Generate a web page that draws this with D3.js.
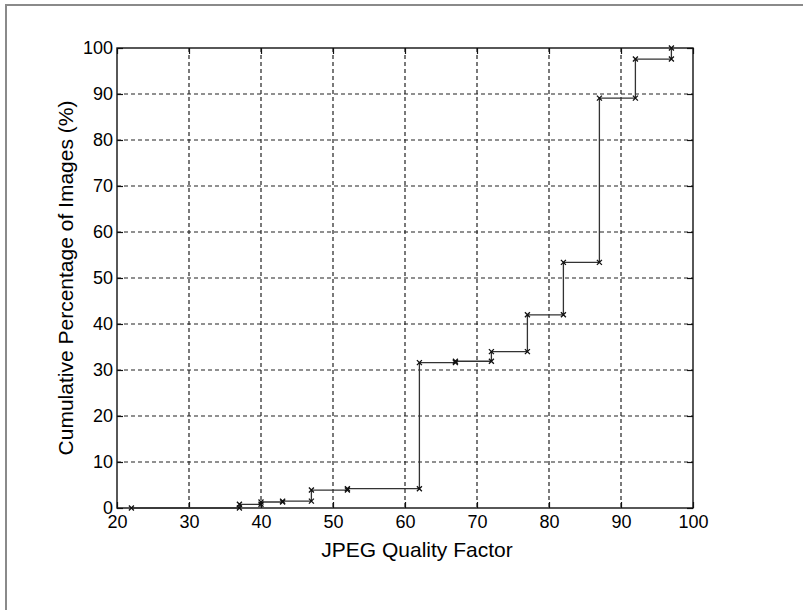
<!DOCTYPE html>
<html>
<head>
<meta charset="utf-8">
<script src="https://cdn.jsdelivr.net/npm/d3@7/dist/d3.min.js"></script>
<style>
  html, body { margin: 0; padding: 0; background: #ffffff; }
  svg { display: block; }
</style>
</head>
<body>
<script>
// ---- Data ----
const qualityFactors = [22, 37, 40, 43, 47, 52, 62, 67, 72, 77, 82, 87, 92, 97];
const cumulativePct  = [0, 0.8, 1.3, 1.5, 3.9, 4.2, 31.6, 31.9, 34, 42, 53.4, 89.1, 97.6, 100];
const xTicks = [20, 30, 40, 50, 60, 70, 80, 90, 100];
const yTicks = [0, 10, 20, 30, 40, 50, 60, 70, 80, 90, 100];
const xLabel = "JPEG Quality Factor";
const yLabel = "Cumulative Percentage of Images (%)";

// ---- Layout ----
const W = 803, H = 610;
const m = { left: 117, right: 110, top: 48, bottom: 102 };
const iw = W - m.left - m.right, ih = H - m.top - m.bottom;

const svg = d3.select("body").append("svg").attr("width", W).attr("height", H);

// outer frame
svg.append("path")
  .attr("d", `M6,${H} L6,5 L${W},5`)
  .attr("fill", "none").attr("stroke", "#8a8a8a").attr("stroke-width", 2);

const g = svg.append("g").attr("transform", `translate(${m.left},${m.top})`);

const x = d3.scaleLinear().domain([20, 100]).range([0, iw]);
const y = d3.scaleLinear().domain([0, 100]).range([ih, 0]);

// grid
g.append("g").selectAll("line").data(xTicks.slice(1, -1)).join("line")
  .attr("x1", d => x(d)).attr("x2", d => x(d)).attr("y1", 0).attr("y2", ih)
  .attr("stroke", "#222").attr("stroke-width", 1.2).attr("stroke-dasharray", "4,3");
g.append("g").selectAll("line").data(yTicks.slice(1, -1)).join("line")
  .attr("y1", d => y(d)).attr("y2", d => y(d)).attr("x1", 0).attr("x2", iw)
  .attr("stroke", "#222").attr("stroke-width", 1.2).attr("stroke-dasharray", "4,3");

// axes
const font = "'Liberation Sans', Arial, sans-serif";
const xAxis = g.append("g").attr("transform", `translate(0,${ih})`)
  .call(d3.axisBottom(x).tickValues(xTicks).tickSize(-6).tickPadding(7).tickFormat(d3.format("d")));
const yAxis = g.append("g")
  .call(d3.axisLeft(y).tickValues(yTicks).tickSize(-6).tickPadding(4).tickFormat(d3.format("d")));
const xTop = g.append("g")
  .call(d3.axisTop(x).tickValues(xTicks).tickSize(-6).tickFormat(""));
const yRight = g.append("g").attr("transform", `translate(${iw},0)`)
  .call(d3.axisRight(y).tickValues(yTicks).tickSize(-6).tickFormat(""));
[xAxis, yAxis, xTop, yRight].forEach(a => {
  a.select(".domain").remove();
  a.selectAll("line").attr("stroke", "#111").attr("stroke-width", 1.2);
  a.selectAll("text").attr("fill", "#000").style("font-family", font).style("font-size", "18px");
});
xAxis.selectAll("text").attr("dy", "0.71em");

// box
g.append("rect").attr("x", 0).attr("y", 0).attr("width", iw).attr("height", ih)
  .attr("fill", "none").attr("stroke", "#111").attr("stroke-width", 1.4);

// stairs
const verts = [];
qualityFactors.forEach((q, i) => {
  if (i > 0) verts.push([q, cumulativePct[i - 1]]);
  verts.push([q, cumulativePct[i]]);
});
const line = d3.line().x(d => x(d[0])).y(d => y(d[1]));
g.append("path").datum(verts).attr("d", line)
  .attr("fill", "none").attr("stroke", "#333").attr("stroke-width", 1.3);

// x markers
const s = 2.5;
g.append("g").selectAll("path").data(verts).join("path")
  .attr("d", d => {
    const px = x(d[0]), py = y(d[1]);
    return `M${px - s},${py - s}L${px + s},${py + s}M${px - s},${py + s}L${px + s},${py - s}`;
  })
  .attr("stroke", "#111").attr("stroke-width", 1.3).attr("fill", "none");

// labels
svg.append("text").attr("x", 417).attr("y", 557).attr("text-anchor", "middle")
  .style("font-family", font).style("font-size", "21px").attr("fill", "#000").text(xLabel);
svg.append("text").attr("transform", `translate(73,${m.top + ih / 2}) rotate(-90)`)
  .attr("text-anchor", "middle")
  .style("font-family", font).style("font-size", "21px").attr("fill", "#000").text(yLabel);
</script>
</body>
</html>
